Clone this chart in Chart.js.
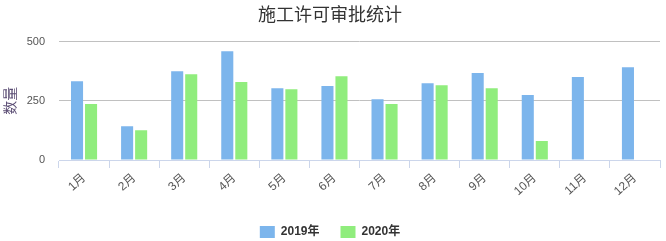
<!DOCTYPE html>
<html>
<head>
<meta charset="utf-8">
<script src="https://cdn.jsdelivr.net/npm/chart.js@4"></script>
<style>
  html, body { margin: 0; padding: 0; background: #fff; }
  #wrap { width: 666px; height: 241px; }
</style>
</head>
<body>
<div id="wrap"><canvas id="chart" width="666" height="241"></canvas></div>
<script>
// 月份
const months = ["1月", "2月", "3月", "4月", "5月", "6月", "7月", "8月", "9月", "10月", "11月", "12月"];
// 数据
const data2019 = [333, 143, 375, 459, 303, 312, 257, 324, 367, 274, 350, 392];
const data2020 = [236, 126, 362, 329, 299, 354, 236, 316, 303, 80, null, null];
const yTicks = [0, 250, 500];

const FONT = '"Liberation Sans", "Noto Sans CJK SC", sans-serif';

new Chart(document.getElementById("chart"), {
    type: "bar",
    data: {
        labels: months,
        datasets: [
            { label: "2019年", data: data2019, backgroundColor: "#7cb5ec" },
            { label: "2020年", data: data2020, backgroundColor: "#90ed7d" }
        ]
    },
    options: {
        responsive: false,
        animation: false,
        categoryPercentage: 0.56,
        barPercentage: 0.86,
        layout: { padding: { left: 0, right: 6, top: 0, bottom: -7 } },
        plugins: {
            title: {
                display: true,
                text: "施工许可审批统计",
                color: "#333333",
                font: { family: FONT, size: 18, weight: "normal" },
                padding: { top: 5, bottom: 15 }
            },
            legend: {
                position: "bottom",
                labels: {
                    boxWidth: 15,
                    boxHeight: 12,
                    padding: 21,
                    color: "#333333",
                    font: { family: FONT, size: 12, weight: "bold" }
                }
            },
            tooltip: { enabled: false }
        },
        scales: {
            x: {
                grid: {
                    offset: true,
                    drawOnChartArea: false,
                    drawTicks: true,
                    tickLength: 8,
                    color: "#ccd6eb"
                },
                border: { color: "#ccd6eb" },
                ticks: {
                    color: "#555555",
                    font: { family: FONT, size: 12 },
                    minRotation: 42,
                    maxRotation: 42,
                    padding: 3
                },
                afterFit: s => { s.height = 45; }
            },
            y: {
                min: 0,
                max: 500,
                afterBuildTicks: s => { s.ticks = yTicks.map(v => ({ value: v })); },
                grid: { color: "#c0c0c0", drawTicks: false },
                border: { display: false },
                ticks: {
                    color: "#555555",
                    font: { family: FONT, size: 11 },
                    padding: 14
                },
                title: {
                    display: true,
                    text: "数量",
                    color: "#5b4d74",
                    font: { family: FONT, size: 14 },
                    padding: { top: 3, bottom: 0 }
                },
                afterFit: s => { s.width = 59; }
            }
        }
    }
});
</script>
</body>
</html>
